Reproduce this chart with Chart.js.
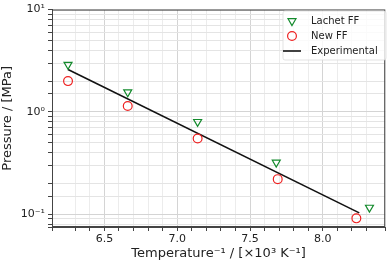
<!DOCTYPE html>
<html>
<head>
<meta charset="utf-8">
<script src="https://cdn.jsdelivr.net/npm/chart.js@4"></script>
<style>
  html, body { margin: 0; padding: 0; background: #fff; }
  canvas { display: block; }
</style>
</head>
<body>
<canvas id="chart" width="391" height="264"></canvas>
<script>
// values (x = 1000/T, y = pressure in MPa)
const lachetX = [6.25, 6.66, 7.14, 7.68, 8.32];
const lachetP = [2.9, 1.56, 0.80, 0.32, 0.116];
const newX = [6.25, 6.66, 7.14, 7.69, 8.23];
const newP = [2.0, 1.14, 0.55, 0.22, 0.091];
const expX = [6.25, 8.25];
const expP = [2.6, 0.103];

const xMin = 6.14, xMax = 8.428;
const yMin = 0.0749, yMax = 10;

const FONT = 'DejaVu Sans';
const sup = { '-': '⁻', '0': '⁰', '1': '¹', '2': '²', '3': '³' };

const pts = (xs, ys) => xs.map((x, i) => ({ x: x, y: ys[i] }));

// box frame + legend drawn inside the plot, like the matplotlib one
const framePlugin = {
    id: 'frame',
    afterDraw(chart) {
        const ctx = chart.ctx;
        const a = chart.chartArea;
        ctx.save();
        ctx.strokeStyle = '#444';
        ctx.lineWidth = 1;
        ctx.strokeRect(a.left + 0.5, a.top + 0.5, a.right - a.left - 1, a.bottom - a.top - 1);

        // legend
        const bx = 283, by = 11, bw = 103, bh = 49;
        ctx.fillStyle = 'rgba(255,255,255,0.8)';
        ctx.strokeStyle = 'rgba(220,220,220,0.8)';
        ctx.beginPath();
        ctx.roundRect(bx, by, bw, bh, 2);
        ctx.fill();
        ctx.stroke();

        const ds = chart.data.datasets;
        const mx = 292, tx = 311;
        const rows = [21, 36, 51];
        ctx.font = '10px "' + FONT + '"';
        ctx.textBaseline = 'middle';
        ds.forEach((d, i) => {
            const y = rows[i];
            ctx.strokeStyle = d.borderColor;
            ctx.lineWidth = d.borderWidth;
            if (d.showLine) {
                ctx.beginPath();
                ctx.moveTo(mx - 9, y);
                ctx.lineTo(mx + 9, y);
                ctx.stroke();
            } else {
                ctx.fillStyle = 'rgba(0,0,0,0)';
                Chart.helpers.drawPoint(ctx, {
                    pointStyle: d.pointStyle,
                    rotation: d.pointRotation || 0,
                    radius: d.pointRadius,
                    borderWidth: d.borderWidth
                }, mx, y);
            }
            ctx.fillStyle = '#222';
            ctx.fillText(d.label, tx, y + 0.5);
        });
        ctx.restore();
    }
};

new Chart(document.getElementById('chart'), {
    type: 'scatter',
    data: {
        datasets: [
            {
                label: 'Lachet FF',
                data: pts(lachetX, lachetP),
                pointStyle: 'triangle',
                pointRotation: 180,
                pointRadius: 4.6,
                borderColor: '#138a2c',
                backgroundColor: 'rgba(0,0,0,0)',
                borderWidth: 1.2,
                order: 1
            },
            {
                label: 'New FF',
                data: pts(newX, newP),
                pointStyle: 'circle',
                pointRadius: 4.4,
                borderColor: '#ee2222',
                backgroundColor: 'rgba(0,0,0,0)',
                borderWidth: 1.2,
                order: 2
            },
            {
                label: 'Experimental',
                data: pts(expX, expP),
                showLine: true,
                pointRadius: 0,
                borderColor: '#111',
                borderWidth: 1.6,
                order: 3
            }
        ]
    },
    options: {
        responsive: false,
        animation: false,
        layout: { padding: { top: 7, right: 2, left: 0, bottom: 0 } },
        plugins: {
            legend: { display: false },
            tooltip: { enabled: false }
        },
        scales: {
            x: {
                type: 'linear',
                min: xMin,
                max: xMax,
                afterFit: (s) => { s.height = 37; },
                border: { display: true, color: '#444' },
                grid: {
                    color: (c) => {
                        const v = c.tick ? c.tick.value : 0;
                        return Math.abs(v * 2 - Math.round(v * 2)) < 1e-6 ? '#d4d4d4' : '#ececec';
                    },
                    tickColor: '#444',
                    tickLength: 4
                },
                ticks: {
                    stepSize: 0.1,
                    autoSkip: false,
                    maxRotation: 0,
                    padding: 2,
                    color: '#222',
                    font: { family: FONT, size: 11 },
                    callback: (v) => Math.abs(v * 2 - Math.round(v * 2)) < 1e-6 ? v.toFixed(1) : ''
                },
                title: {
                    display: true,
                    text: 'Temperature⁻¹ / [×10³ K⁻¹]',
                    color: '#222',
                    font: { family: FONT, size: 13 },
                    padding: { top: 0, bottom: 3 }
                }
            },
            y: {
                type: 'logarithmic',
                min: yMin,
                max: yMax,
                afterFit: (s) => { s.width = 52; },
                border: { display: true, color: '#444' },
                grid: {
                    color: (c) => (c.tick && c.tick.major) ? '#d4d4d4' : '#e4e4e4',
                    tickColor: '#444',
                    tickLength: 4
                },
                ticks: {
                    autoSkip: false,
                    padding: 3,
                    color: '#222',
                    font: { family: FONT, size: 11 },
                    callback: (v) => {
                        const e = Math.log10(v);
                        if (Math.abs(e - Math.round(e)) > 1e-9) return '';
                        return '10' + String(Math.round(e)).split('').map(ch => sup[ch]).join('');
                    }
                },
                title: {
                    display: true,
                    text: 'Pressure / [MPa]',
                    color: '#222',
                    font: { family: FONT, size: 13 },
                    padding: { top: 0, bottom: 0 }
                }
            }
        }
    },
    plugins: [framePlugin]
});
</script>
</body>
</html>
